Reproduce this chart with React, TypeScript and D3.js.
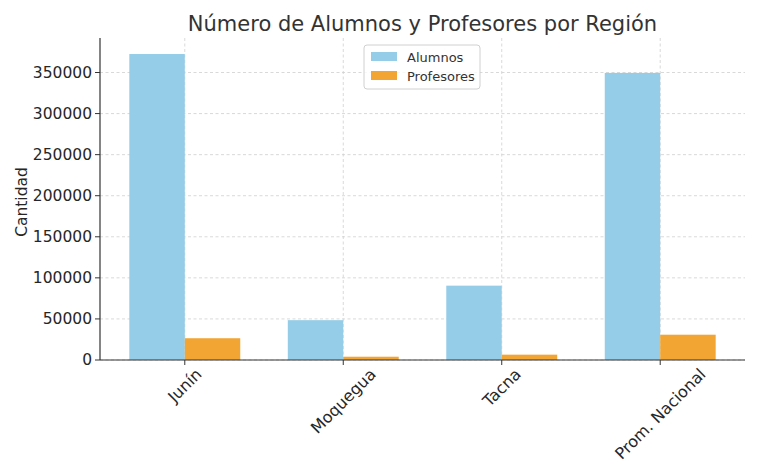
import React, { useEffect, useRef } from "react";
import * as d3 from "d3";

const categories = ["Junín", "Moquegua", "Tacna", "Prom. Nacional"];
const alumnos = [372500, 48500, 90500, 349500];
const profesores = [26500, 4000, 6500, 30800];
const yTicks = [0, 50000, 100000, 150000, 200000, 250000, 300000, 350000];
const seriesNames = ["Alumnos", "Profesores"];
const seriesColors = ["#95cde8", "#f2a533"];

const W = 759;
const H = 474;
const M = { left: 100, right: 745, top: 38, bottom: 360 };

export default function App() {
  const ref = useRef<SVGSVGElement | null>(null);

  useEffect(() => {
    const svg = d3.select(ref.current);
    svg.selectAll("*").remove();
    const font = "DejaVu Sans, sans-serif";
    const barW = 0.35;
    const x = d3.scaleLinear().domain([-0.535, categories.length - 1 + 0.535]).range([M.left, M.right]);
    const y = d3.scaleLinear().domain([0, 392000]).range([M.bottom, M.top]);

    const grid = svg.append("g");
    yTicks.forEach((t) => {
      grid.append("line").attr("x1", M.left).attr("x2", M.right).attr("y1", y(t)).attr("y2", y(t))
        .attr("stroke", "#cfcfcf").attr("stroke-width", 0.8).attr("stroke-dasharray", "3,2.5");
    });
    categories.forEach((_, i) => {
      grid.append("line").attr("x1", x(i)).attr("x2", x(i)).attr("y1", M.top).attr("y2", M.bottom)
        .attr("stroke", "#cfcfcf").attr("stroke-width", 0.8).attr("stroke-dasharray", "3,2.5");
    });

    const bars = svg.append("g");
    [alumnos, profesores].forEach((vals, s) => {
      vals.forEach((v, i) => {
        const x0 = s === 0 ? x(i - barW) : x(i);
        bars.append("rect").attr("x", x0).attr("width", x(i + barW) - x(i))
          .attr("y", y(v)).attr("height", y(0) - y(v)).attr("fill", seriesColors[s]);
      });
    });

    // spines
    svg.append("line").attr("x1", M.left).attr("x2", M.left).attr("y1", M.top).attr("y2", M.bottom)
      .attr("stroke", "#333").attr("stroke-width", 1.2);
    svg.append("line").attr("x1", M.left).attr("x2", M.right).attr("y1", M.bottom).attr("y2", M.bottom)
      .attr("stroke", "#333").attr("stroke-width", 1.2);

    // y ticks
    yTicks.forEach((t) => {
      svg.append("line").attr("x1", M.left - 5).attr("x2", M.left).attr("y1", y(t)).attr("y2", y(t))
        .attr("stroke", "#333").attr("stroke-width", 1);
      svg.append("text").attr("x", M.left - 8).attr("y", y(t)).attr("dy", "0.35em")
        .attr("text-anchor", "end").attr("font-family", font).attr("font-size", 15.5).attr("fill", "#262626")
        .text(String(t));
    });

    // x ticks
    categories.forEach((c, i) => {
      svg.append("line").attr("x1", x(i)).attr("x2", x(i)).attr("y1", M.bottom).attr("y2", M.bottom + 5)
        .attr("stroke", "#333").attr("stroke-width", 1);
      const t = svg.append("text").attr("text-anchor", "middle").attr("dy", "0.35em")
        .attr("font-family", font).attr("font-size", 16).attr("fill", "#262626").text(c);
      const L = (t.node() as SVGTextElement).getComputedTextLength();
      const h = 15;
      const cy = M.bottom + 6 + (L + h) * 0.3536;
      t.attr("transform", `translate(${x(i)},${cy}) rotate(-45)`);
    });

    // y label
    svg.append("text").attr("transform", `translate(27,${(M.top + M.bottom) / 2 + 3}) rotate(-90)`)
      .attr("text-anchor", "middle").attr("font-family", font).attr("font-size", 15.5).attr("fill", "#262626")
      .text("Cantidad");

    // title
    svg.append("text").attr("x", (M.left + M.right) / 2 + 0).attr("y", 31).attr("text-anchor", "middle")
      .attr("font-family", font).attr("font-size", 21).attr("fill", "#333").text("Número de Alumnos y Profesores por Región");

    // legend
    const lg = svg.append("g").attr("transform", "translate(364,45)");
    lg.append("rect").attr("width", 116).attr("height", 44).attr("rx", 3).attr("fill", "white")
      .attr("fill-opacity", 0.8).attr("stroke", "#d0d0d0");
    seriesNames.forEach((n, s) => {
      lg.append("rect").attr("x", 7).attr("y", 7 + s * 19).attr("width", 26).attr("height", 9).attr("fill", seriesColors[s]);
      lg.append("text").attr("x", 43).attr("y", 12 + s * 19).attr("dy", "0.35em").attr("font-family", font)
        .attr("font-size", 13).attr("fill", "#333").text(n);
    });
  }, []);

  return (
    <svg ref={ref} width={W} height={H}
      style={{ display: "block", position: "absolute", left: 0, top: 0 }} />
  );
}
